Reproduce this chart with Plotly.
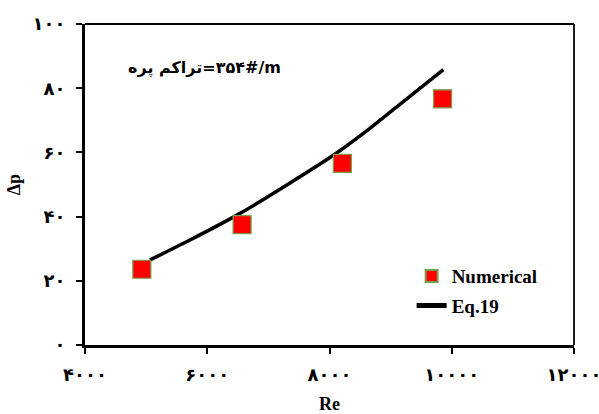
import plotly.graph_objects as go

# Numerical results
re_num = [4930, 6570, 8210, 9850]
dp_num = [23.6, 37.5, 56.6, 76.7]

# Eq.19 curve
re_eq = [5064, 5718, 6536, 7322, 8063, 8554, 9100, 9863]
dp_eq = [26.5, 32.7, 41.0, 50.1, 59.1, 65.9, 74.2, 85.8]

# Axis ticks with Persian digits
x_ticks = [4000, 6000, 8000, 10000, 12000]
x_ticktext = ["۴۰۰۰", "۶۰۰۰", "۸۰۰۰", "۱۰۰۰۰", "۱۲۰۰۰"]
y_ticks = [0, 20, 40, 60, 80, 100]
y_ticktext = ["۰", "۲۰", "۴۰", "۶۰", "۸۰", "۱۰۰"]

serif = "Liberation Serif"
persian = "DejaVu Sans"

fig = go.Figure()

fig.add_trace(go.Scatter(
    x=re_eq, y=dp_eq, mode="lines", name="<b>Eq.19</b>",
    legendgroup="eq", legendrank=2,
    line=dict(color="black", width=3.5, shape="spline", smoothing=0.6),
))
fig.add_trace(go.Scatter(
    x=re_num, y=dp_num, mode="markers", name="<b>Numerical</b>",
    legendgroup="num", legendrank=1,
    marker=dict(symbol="square", size=18, color="#ff0000",
                line=dict(color="#77a04a", width=1.2)),
))

fig.update_layout(
    width=599, height=414,
    margin=dict(l=85, r=25, t=24, b=69),
    paper_bgcolor="white", plot_bgcolor="white",
    showlegend=True,
    legend=dict(
        x=0.668, y=0.168, xanchor="left", yanchor="middle",
        traceorder="grouped",
        font=dict(family=serif, size=19, color="black"),
        bgcolor="rgba(0,0,0,0)", itemsizing="constant",
        tracegroupgap=2,
    ),
    font=dict(family=serif, color="black"),
)

fig.update_xaxes(
    range=[4000, 12000], tickvals=x_ticks, ticktext=x_ticktext,
    tickfont=dict(family=persian, size=18, color="black", weight="bold"),
    ticks="outside", ticklen=6, tickwidth=1.5, tickcolor="black",
    showline=True, linecolor="black", linewidth=3,
    showgrid=False, zeroline=False, ticklabelstandoff=5,
    ticklabeloverflow="allow", automargin=False,
    title=dict(text="<b>Re</b>", font=dict(family=serif, size=18), standoff=18),
)
fig.update_yaxes(
    range=[0, 100], tickvals=y_ticks, ticktext=y_ticktext,
    tickfont=dict(family=persian, size=18, color="black", weight="bold"),
    ticks="outside", ticklen=6, tickwidth=1.5, tickcolor="black",
    showline=True, linecolor="black", linewidth=3,
    showgrid=False, zeroline=False, ticklabelstandoff=7,
    ticklabeloverflow="allow", automargin=False,
    title=dict(text="<b>Δp</b>", font=dict(family=serif, size=18), standoff=8),
)

# Thin frame on top and right
fig.add_shape(type="line", xref="paper", yref="paper", x0=0, x1=1, y0=1, y1=1,
              line=dict(color="black", width=1.8))
fig.add_shape(type="line", xref="paper", yref="paper", x0=1, x1=1, y0=0, y1=1,
              line=dict(color="black", width=1.8))

fig.add_annotation(
    x=5950, y=86.2, xref="x", yref="y", showarrow=False,
    text="<b>تراکم پره\u200E=۳۵۴#/m</b>",
    font=dict(family=persian, size=16, color="black"),
)

fig.write_html("out.html")
